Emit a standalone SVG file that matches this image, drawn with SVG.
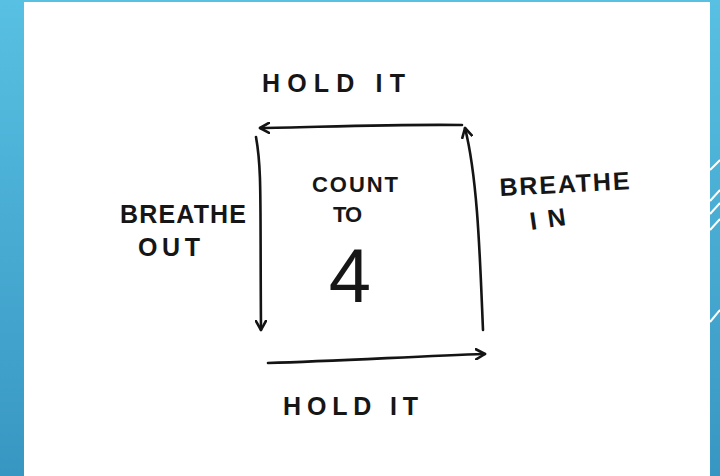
<svg xmlns="http://www.w3.org/2000/svg" width="720" height="476" viewBox="0 0 720 476">
<defs>
<linearGradient id="bg" x1="0" y1="0" x2="0" y2="1">
<stop offset="0" stop-color="#58c0e2"/>
<stop offset="1" stop-color="#3897c2"/>
</linearGradient>
<marker id="ah" viewBox="0 0 12 12" refX="10" refY="6" markerWidth="12" markerHeight="12" markerUnits="userSpaceOnUse" orient="auto">
<path d="M1,1 L10,6 L1,11" fill="none" stroke="#141414" stroke-width="2.6" stroke-linecap="round" stroke-linejoin="round"/>
</marker>
<style>
.t{font-family:"Liberation Sans","DejaVu Sans",sans-serif;font-weight:bold;fill:#161616;font-size:25px}
.s{font-size:22px}
.c{fill:none;stroke:#141414;stroke-width:2.6;stroke-linecap:round;stroke-linejoin:round}
.d{stroke:#ffffff;stroke-width:2;fill:none}
</style>
</defs>
<rect x="0" y="0" width="720" height="476" fill="url(#bg)"/>
<g id="deco">
<line class="d" x1="710" y1="170" x2="720" y2="160"/>
<line class="d" x1="710" y1="201" x2="720" y2="190"/>
<line class="d" x1="710" y1="214" x2="720" y2="203"/>
<line class="d" x1="710" y1="230" x2="720" y2="219"/>
<line class="d" x1="710" y1="322" x2="720" y2="310"/>
</g>
<rect x="24" y="2" width="686" height="474" fill="#ffffff"/>
<g id="connectors">
<path class="c" d="M462,125 C400,124 320,127 260,128" marker-end="url(#ah)"/>
<path class="c" d="M256,137 C262,170 260,200 261,330" marker-end="url(#ah)"/>
<path class="c" d="M268,363 C340,361 420,356 485,354" marker-end="url(#ah)"/>
<path class="c" d="M483,330 C480,260 478,180 465,128" marker-end="url(#ah)"/>
</g>
<g id="hold-top"><text class="t" x="262" y="92" textLength="143" lengthAdjust="spacing">HOLD IT</text></g>
<g id="breathe-out">
<text class="t" x="120" y="223" textLength="126" lengthAdjust="spacing">BREATHE</text>
<text class="t" x="138" y="256" textLength="62" lengthAdjust="spacing">OUT</text>
</g>
<g id="count">
<text class="t s" x="312" y="192" textLength="86" lengthAdjust="spacing">COUNT</text>
<text class="t s" x="333" y="222" textLength="29" lengthAdjust="spacing">TO</text>
<text class="t" x="350" y="302" text-anchor="middle" style="font-size:76px;font-weight:normal">4</text>
</g>
<g id="breathe-in">
<text class="t" x="500" y="196" textLength="130" lengthAdjust="spacing" transform="rotate(-3 500 196)">BREATHE</text>
<text class="t" x="531" y="230" textLength="36" lengthAdjust="spacing" transform="rotate(-8 531 230)">IN</text>
</g>
<g id="hold-bottom"><text class="t" x="283" y="415" textLength="135" lengthAdjust="spacing">HOLD IT</text></g>
</svg>
